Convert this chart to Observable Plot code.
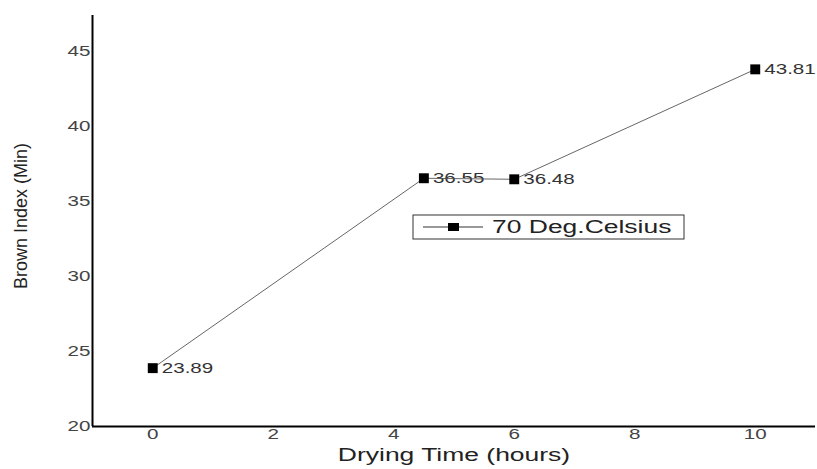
<!DOCTYPE html>
<html><head><meta charset="utf-8">
<script src="https://cdn.jsdelivr.net/npm/d3@7"></script>
<script src="https://cdn.jsdelivr.net/npm/@observablehq/plot@0.6"></script>
<style>body{margin:0;background:#fff;} #chart{position:relative;width:817px;height:469px;}</style>
</head><body><div id="chart"></div>
<script>
const hours = [0, 4.5, 6, 10];
const brownIndex = [23.89, 36.55, 36.48, 43.81];
const pointLabels = ["23.89", "36.55", "36.48", "43.81"];
const xTicks = [0, 2, 4, 6, 8, 10];
const yTicks = [20, 25, 30, 35, 40, 45];
const seriesName = "70 Deg.Celsius";
const xTitle = "Drying Time (hours)";
const yTitle = "Brown Index (Min)";

const data = hours.map((h, i) => ({hours: h, value: brownIndex[i], label: pointLabels[i]}));
const font = "'Liberation Sans', Arial, sans-serif";

const plot = Plot.plot({
  width: 817, height: 469,
  marginLeft: 92, marginRight: 2, marginTop: 15, marginBottom: 43,
  style: {fontFamily: font, background: "#fff", overflow: "visible"},
  x: {domain: [-1, 11]},
  y: {domain: [20, 47.4]},
  marks: [
    Plot.axisX({ticks: xTicks, tickSize: 0, tickPadding: 3, fontSize: 14, fill: "#444", label: null}),
    Plot.axisY({ticks: yTicks, tickSize: 0, tickPadding: 2, fontSize: 14, fill: "#444", label: null}),
    Plot.text([yTitle], {text: d => d, frameAnchor: "left", textAnchor: "middle", rotate: -90, dx: -71, dy: -5, fontSize: 18, fill: "#222"}),
    Plot.text([xTitle], {text: d => d, frameAnchor: "bottom", dy: 34, fontSize: 18, fill: "#222"}),
    Plot.text(data, {x: "hours", y: "value", text: "label", textAnchor: "start", dx: 9, fontSize: 14, fill: "#333"}),
    Plot.line(data, {x: "hours", y: "value", stroke: "#555", strokeWidth: 0.9}),
    Plot.dot(data, {x: "hours", y: "value", symbol: "square", r: 5.6, fill: "#000", stroke: null}),
    Plot.ruleX([-1], {stroke: "#000", strokeWidth: 2}),
    Plot.ruleY([20], {stroke: "#000", strokeWidth: 2})
  ]
});
document.getElementById("chart").appendChild(plot);

// legend
const svg = d3.select(plot);
const lg = svg.append("g").attr("font-family", font).attr("text-anchor", "start");
lg.append("rect").attr("x", 413).attr("y", 215).attr("width", 271).attr("height", 24)
  .attr("fill", "#fff").attr("stroke", "#333").attr("stroke-width", 1);
lg.append("line").attr("x1", 423).attr("x2", 483).attr("y1", 227).attr("y2", 227)
  .attr("stroke", "#333").attr("stroke-width", 1);
lg.append("rect").attr("x", 448).attr("y", 223).attr("width", 11).attr("height", 8).attr("fill", "#000");
lg.append("text").attr("x", 492).attr("y", 227).attr("dy", "0.35em").attr("font-size", 18)
  .attr("text-anchor", "start").attr("fill", "#222").text(seriesName);

// horizontally stretched lettering, as in the reference
plot.querySelectorAll("text").forEach(t => {
  const tr = t.getAttribute("transform") || "";
  const len = t.getComputedTextLength();
  if (!(len > 0)) return;
  const k = tr.includes("rotate") ? 1.0 : 1.47;
  t.setAttribute("textLength", (len * k).toFixed(1));
  t.setAttribute("lengthAdjust", "spacingAndGlyphs");
});
</script>
</body></html>
